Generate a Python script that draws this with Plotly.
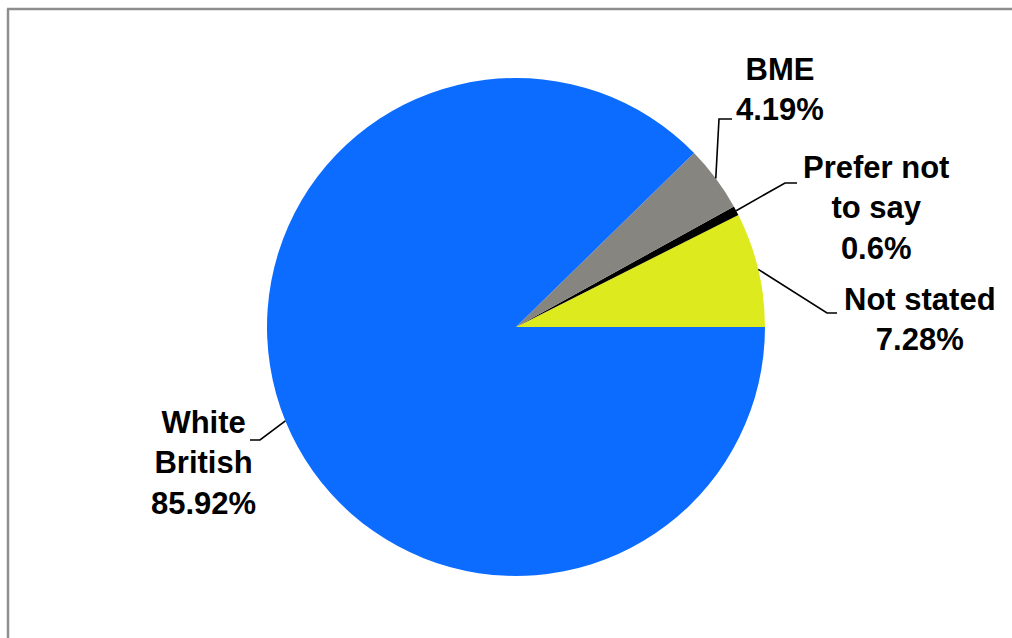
import math
import plotly.graph_objects as go

# Ethnicity breakdown (percent), listed counter-clockwise from 3 o'clock
categories = ["Not stated", "Prefer not to say", "BME", "White British"]
values = [7.28, 0.6, 4.19, 85.92]
label_text = ["Not stated", "Prefer not<br>to say", "BME", "White<br>British"]
colors = ["#DDEA1E", "#000000", "#87857F", "#0B6CFF"]

W, H = 1012, 638
CX, CY, R = 516, 327, 249          # pie centre and radius in pixels

# Label block centres and leader-line elbows/ends (pixels)
label_pos = [(920, 320), (876, 208), (780, 90), (203, 463)]
elbow_pos = [(827, 313), (785, 183), (719, 119), (260, 440)]
end_pos = [(837, 313), (797, 183), (732, 119), (250, 440)]


def px(x, y):
    return x / W, 1 - y / H


total = sum(values)
# plotly places the first slice clockwise of `rotation` when drawing
# counter-clockwise, so offset it to make the first slice start at 3 o'clock
rotation = 90 - 360 * values[0] / total

fig = go.Figure(
    go.Pie(
        labels=categories,
        values=values,
        sort=False,
        direction="counterclockwise",
        rotation=rotation,
        marker=dict(colors=colors, line=dict(width=0)),
        textinfo="none",
        hoverinfo="label+value",
        showlegend=False,
        domain=dict(x=[(CX - R) / W, (CX + R) / W],
                    y=[1 - (CY + R) / H, 1 - (CY - R) / H]),
    )
)

shapes = []
annotations = []
cum = 0.0
for i, v in enumerate(values):
    mid = (cum + v / 2) / total * 2 * math.pi
    cum += v
    ex, ey = CX + R * math.cos(mid), CY - R * math.sin(mid)
    pts = [(ex, ey), elbow_pos[i], end_pos[i]]
    path = "M " + " L ".join(f"{px(x, y)[0]:.5f},{px(x, y)[1]:.5f}" for x, y in pts)
    shapes.append(dict(type="path", xref="paper", yref="paper", path=path,
                       line=dict(color="black", width=1.6)))
    lx, ly = px(*label_pos[i])
    annotations.append(dict(
        x=lx, y=ly, xref="paper", yref="paper", showarrow=False,
        xanchor="center", yanchor="middle", align="center",
        text=f"<b>{label_text[i]}<br>{values[i]:g}%</b>",
        font=dict(family="Liberation Sans, Arial, sans-serif", size=31, color="black"),
    ))

# Chart frame: left and top edges
shapes.append(dict(type="line", xref="paper", yref="paper",
                   x0=px(8, 9)[0], y0=px(8, 9)[1], x1=px(8, 640)[0], y1=px(8, 640)[1],
                   line=dict(color="#8E8E8E", width=2.5)))
shapes.append(dict(type="line", xref="paper", yref="paper",
                   x0=px(7, 9)[0], y0=px(7, 9)[1], x1=px(1014, 9)[0], y1=px(1014, 9)[1],
                   line=dict(color="#8E8E8E", width=2.5)))

fig.update_layout(
    width=W, height=H,
    margin=dict(l=0, r=0, t=0, b=0),
    paper_bgcolor="white",
    plot_bgcolor="white",
    shapes=shapes,
    annotations=annotations,
)

fig.write_html("out.html")
